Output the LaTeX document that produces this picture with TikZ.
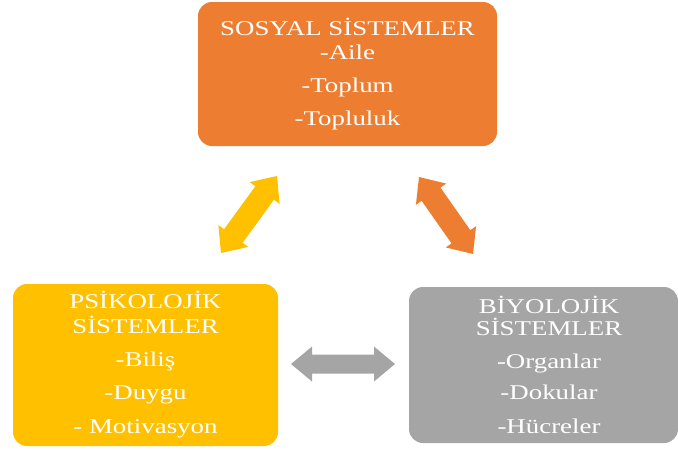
\documentclass[tikz,border=0pt]{standalone}
\usepackage{fontspec}
\setmainfont{Liberation Serif}[FakeStretch=1.28]
\usetikzlibrary{calc}
\definecolor{sorange}{HTML}{ED7D31}
\definecolor{syellow}{HTML}{FFC000}
\definecolor{sgray}{HTML}{A5A5A5}
% #1,#2 end coordinates, #3 colour, #4 half shaft width, #5 half head width
\newcommand\drawdbl[5]{%
\fill[#3] let \p1=(#1), \p2=(#2), \n1={atan2(\y2-\y1,\x2-\x1)},
  \n2={veclen(\x2-\x1,\y2-\y1)-21pt} in
 (\p1) -- ($(\p1)+(\n1:21pt)+(\n1+90:#5)$) -- ($(\p1)+(\n1:21pt)+(\n1+90:#4)$)
 -- ($(\p1)+(\n1:\n2)+(\n1+90:#4)$) -- ($(\p1)+(\n1:\n2)+(\n1+90:#5)$)
 -- (\p2) -- ($(\p1)+(\n1:\n2)+(\n1-90:#5)$) -- ($(\p1)+(\n1:\n2)+(\n1-90:#4)$)
 -- ($(\p1)+(\n1:21pt)+(\n1-90:#4)$) -- ($(\p1)+(\n1:21pt)+(\n1-90:#5)$) -- cycle;}
\newcommand\rsh{\hspace*{11pt}}
\begin{document}
\begin{tikzpicture}[x=1pt,y=-1pt,
  sysbox/.style={rounded corners=14pt, inner sep=0pt, text=white, align=center,
    font=\fontsize{21}{25}\selectfont}]
\useasboundingbox (0,0) rectangle (678,450);
\node[sysbox, fill=sorange, minimum width=299pt, minimum height=144pt] (sos) at (347.5,74)
  {SOSYAL SİSTEMLER\\[-1pt]-Aile\\[8pt]-Toplum\\[8pt]-Topluluk};
\node[sysbox, fill=syellow, minimum width=265pt, minimum height=162pt] (psi) at (145.5,365)
  {PSİKOLOJİK\\SİSTEMLER\\[8pt]-Biliş\\[8pt]-Duygu\\[9pt]- Motivasyon};
\node[sysbox, fill=sgray, minimum width=269pt, minimum height=156pt] (biy) at (543.5,365)
  {\rsh BİYOLOJİK\\[-3pt]\rsh SİSTEMLER\\[8pt]\rsh -Organlar\\[6pt]\rsh -Dokular\\[9pt]\rsh -Hücreler};
\coordinate (y1) at (221,253);
\coordinate (y2) at (277,176);
\coordinate (o1) at (419,177);
\coordinate (o2) at (473,254);
\coordinate (g1) at (291,364);
\coordinate (g2) at (395,364);
\drawdbl{y1}{y2}{syellow}{11.5pt}{18.5pt}
\drawdbl{o1}{o2}{sorange}{11.5pt}{18.5pt}
\drawdbl{g1}{g2}{sgray}{9.5pt}{17.5pt}
\end{tikzpicture}
\end{document}
